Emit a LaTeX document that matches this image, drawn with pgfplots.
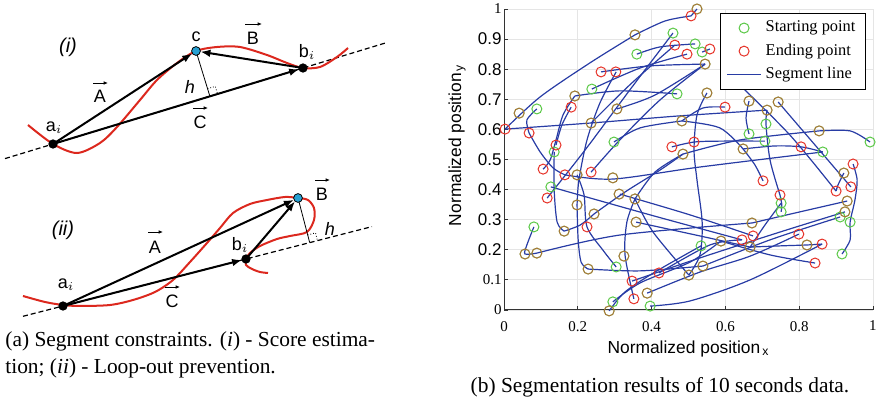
\documentclass[border=0pt]{standalone}
\usepackage{fontspec}
\setmainfont{Liberation Serif}
\setsansfont{Liberation Sans}
\usepackage{pgfplots}
\pgfplotsset{compat=1.18}
\usetikzlibrary{arrows.meta}

\definecolor{sgreen}{RGB}{90,200,70}
\definecolor{sred}{RGB}{230,50,40}
\definecolor{sblue}{RGB}{40,60,165}
\definecolor{cdot}{RGB}{40,160,210}
\definecolor{cred}{RGB}{220,40,30}

\pgfplotsset{
  seg/.style={sblue, line width=0.6pt, smooth, forget plot},
  vec/.style={black, line width=1pt, -{Latex[length=5pt,width=3.8pt]}, forget plot},
  over/.style={black, line width=0.4pt, -{Latex[length=2.2pt,width=1.8pt]}, forget plot},
}

\begin{document}
\begin{tikzpicture}
\useasboundingbox (0,0) rectangle (440pt,200.5pt);

% ---------- (a) diagram, drawn in image pixel units ----------
\begin{axis}[at={(0pt,0pt)}, anchor=south west, width=440pt, height=200.5pt,
  scale only axis, xmin=0, xmax=880, ymin=0, ymax=401, y dir=reverse,
  hide axis, clip=false]
% (i)
\addplot[black, line width=0.6pt, dash pattern=on 2.5pt off 1.5pt] coordinates {(5,158.6)(385,43.1)};
\addplot[cred, line width=1pt, smooth] coordinates {(28,125)(53,144)(77,153)(100,143)(117,127)(140,100)(157,80)(177,63)(196,51)(217,47)(240,47)(267,55)(287,63)(303,68)(320,67)(337,57)(348,48)};
\addplot[black, line width=0.4pt] coordinates {(196,51)(209.9,96.3)};
\addplot[black, line width=0.4pt, densely dotted] coordinates {(207.6,88.7)(215.3,86.4)(217.6,94.0)};
\addplot[vec] coordinates {(53,144)(192.2,53.5)};
\addplot[vec] coordinates {(303,68)(200.4,51.7)};
\addplot[vec] coordinates {(53,144)(299.2,69.2)};
\addplot[only marks, mark=*, mark size=2.1pt, black] coordinates {(53,144)(303,68)};
\addplot[only marks, mark=*, mark size=2.2pt, mark options={fill=cdot, draw=black, line width=0.4pt}] coordinates {(196,51)};
% vector arrows over the letters
\addplot[over] coordinates {(93,83)(108,83)};
\addplot[over] coordinates {(245,24)(262,24)};
\addplot[over] coordinates {(193,108)(208,108)};
% (ii)
\addplot[black, line width=0.6pt, dash pattern=on 2.5pt off 1.5pt] coordinates {(23,316.3)(372,226.6)};
\addplot[cred, line width=1pt, smooth] coordinates {(23,296)(45,302)(63,305)(80,306)(110,305)(133,300)(155,292)(173,280)(190,262)(207,243)(220,228)(233,213)(250,204)(267,200)(285,197)(298,198)(308,200)(314,208)(314,220)(307,232)(290,236)(277,239)(260,246)(250,253)(246,259)(246,265)(252,269)(260,272)(268,273)};
\addplot[black, line width=0.4pt] coordinates {(298,198)(309.7,242.6)};
\addplot[black, line width=0.4pt, densely dotted] coordinates {(307.7,234.9)(315.5,232.9)(317.5,240.6)};
\addplot[vec] coordinates {(63,306)(293.9,199.9)};
\addplot[vec] coordinates {(63,306)(242.1,260)};
\addplot[vec] coordinates {(246,259)(295.1,201.4)};
\addplot[only marks, mark=*, mark size=2.1pt, black] coordinates {(63,306)(246,259)};
\addplot[only marks, mark=*, mark size=2.2pt, mark options={fill=cdot, draw=black, line width=0.4pt}] coordinates {(298,198)};
\addplot[over] coordinates {(148,232)(163,232)};
\addplot[over] coordinates {(165,287)(180,287)};
\addplot[over] coordinates {(315,180)(330,180)};

\begin{scope}[every node/.style={font=\fontsize{9}{10}\sffamily, inner sep=0pt}]
\node[font=\fontsize{10}{11}\sffamily\itshape] at (68,47) {(i)};
\node at (54,128) {a$_i$};
\node at (307,52) {b$_i$};
\node at (196,37) {c};
\node at (100,96) {A};
\node at (253,38) {B};
\node at (200,122) {C};
\node at (190,87) {\textit{h}};
\node[font=\fontsize{10}{11}\sffamily\itshape] at (63,230) {(ii)};
\node at (66,285) {a$_i$};
\node at (240,245) {b$_i$};
\node at (155,247) {A};
\node at (172,301) {C};
\node at (322,194) {B};
\node at (330,229) {\textit{h}};
\end{scope}
\begin{scope}[every node/.style={font=\fontsize{10.7}{13}\selectfont, inner sep=0pt}]
\node[anchor=base west] at (5,347) {(a) Segment constraints. (\textit{i}) - Score estima-};
\node[anchor=base west] at (5,374) {tion; (\textit{ii}) - Loop-out prevention.};
\node[anchor=base] at (660,393) {(b) Segmentation results of 10 seconds data.};
\end{scope}
\end{axis}

% ---------- (b) segmentation chart ----------
\begin{axis}[at={(252pt,45.5pt)}, anchor=south west, width=184.5pt, height=150.5pt,
  scale only axis, xmin=0, xmax=1, ymin=0, ymax=1, clip=false,
  axis x line*=bottom, axis y line*=left,
  axis line style={black!80, line width=0.5pt},
  tick align=inside, major tick length=2pt, tick style={black!80, line width=0.4pt},
  grid=major, major grid style={black!10, line width=0.4pt},
  xtick={0,0.2,0.4,0.6,0.8,1}, xticklabels={0,0.2,0.4,0.6,0.8,1},
  ytick={0,0.1,0.2,0.3,0.4,0.5,0.6,0.7,0.8,0.9,1},
  yticklabels={{\rmfamily\fontsize{7.5}{8}\selectfont 0},{\rmfamily\fontsize{7.5}{8}\selectfont 0.1},0.2,0.3,0.4,0.5,0.6,0.7,0.8,0.9,{\rmfamily\fontsize{7.5}{8}\selectfont 1}},
  xticklabel style={font=\fontsize{7.5}{8}\selectfont, yshift=-2pt},
  yticklabel style={font=\fontsize{8.5}{9}\sffamily, inner xsep=1pt},
  xlabel={Normalized position\textsubscript{\,x}},
  ylabel={Normalized position\textsubscript{\,y}},
  xlabel style={font=\fontsize{8.7}{10}\sffamily, at={(axis description cs:0.5,-0.13)}, anchor=center},
  ylabel style={font=\fontsize{8.7}{10}\sffamily, at={(axis description cs:-0.127,0.548)}, anchor=center},
  legend style={at={(0.981,0.988)}, anchor=north east, draw=black, line width=0.5pt,
    fill=white, font=\fontsize{8.2}{9.5}\selectfont, inner xsep=3pt, inner ysep=2pt,
    row sep=0.5pt, cells={anchor=west}},
]
\addlegendimage{only marks, mark=o, mark size=2.5pt, sgreen, line width=0.5pt}
\addlegendentry{Starting point}
\addlegendimage{only marks, mark=o, mark size=2.5pt, sred, line width=0.5pt}
\addlegendentry{Ending point}
\addlegendimage{sblue, line width=0.6pt}
\addlegendentry{Segment line}

\addplot[seg] coordinates {(0.003,0.601)(0.098,0.708)(0.233,0.821)(0.355,0.914)};
\addplot[seg] coordinates {(0.355,0.914)(0.436,0.960)(0.507,0.977)};
\addplot[seg] coordinates {(0.523,1.0)(0.507,0.977)};
\addplot[seg] coordinates {(0.003,0.601)(0.233,0.621)(0.477,0.645)(0.713,0.664)};
\addplot[seg] coordinates {(0.089,0.668)(0.062,0.631)(0.068,0.588)};
\addplot[seg] coordinates {(0.068,0.588)(0.098,0.525)(0.133,0.472)(0.165,0.449)};
\addplot[seg] coordinates {(0.165,0.449)(0.295,0.435)(0.531,0.475)(0.864,0.525)};
\addplot[seg] coordinates {(0.360,0.850)(0.423,0.874)(0.518,0.884)};
\addplot[seg] coordinates {(0.238,0.734)(0.369,0.804)(0.496,0.850)};
\addplot[seg] coordinates {(0.263,0.791)(0.396,0.811)(0.545,0.817)};
\addplot[seg] coordinates {(0.192,0.711)(0.314,0.728)(0.469,0.718)};
\addplot[seg] coordinates {(0.192,0.711)(0.160,0.648)(0.141,0.565)(0.125,0.498)(0.106,0.468)};
\addplot[seg] coordinates {(0.182,0.674)(0.157,0.615)(0.141,0.548)};
\addplot[seg] coordinates {(0.136,0.525)(0.136,0.399)(0.144,0.292)(0.163,0.262)};
\addplot[seg] coordinates {(0.163,0.262)(0.206,0.282)(0.244,0.319)};
\addplot[seg] coordinates {(0.244,0.319)(0.328,0.392)(0.423,0.465)(0.485,0.518)};
\addplot[seg] coordinates {(0.485,0.518)(0.409,0.458)(0.355,0.369)};
\addplot[seg] coordinates {(0.355,0.369)(0.333,0.292)(0.328,0.183)(0.352,0.037)};
\addplot[seg] coordinates {(0.355,0.369)(0.404,0.259)(0.501,0.116)};
\addplot[seg] coordinates {(0.501,0.116)(0.531,0.183)(0.537,0.292)(0.523,0.432)(0.515,0.532)(0.523,0.648)(0.550,0.721)};
\addplot[seg] coordinates {(0.304,0.791)(0.260,0.688)(0.225,0.565)(0.203,0.432)(0.198,0.349)};
\addplot[seg] coordinates {(0.198,0.349)(0.201,0.233)(0.209,0.159)(0.228,0.136)};
\addplot[seg] coordinates {(0.228,0.136)(0.369,0.130)(0.539,0.146)};
\addplot[seg] coordinates {(0.198,0.449)(0.217,0.382)(0.225,0.276)(0.268,0.199)(0.304,0.143)};
\addplot[seg] coordinates {(0.127,0.409)(0.396,0.316)(0.645,0.233)};
\addplot[seg] coordinates {(0.458,0.920)(0.341,0.731)(0.220,0.532)(0.117,0.372)};
\addplot[seg] coordinates {(0.537,0.857)(0.558,0.867)};
\addplot[seg] coordinates {(0.545,0.817)(0.423,0.698)(0.314,0.565)(0.236,0.458)};
\addplot[seg] coordinates {(0.306,0.668)(0.409,0.714)(0.545,0.817)};
\addplot[seg] coordinates {(0.236,0.621)(0.341,0.748)(0.463,0.880)};
\addplot[seg] coordinates {(0.298,0.558)(0.369,0.605)(0.482,0.628)};
\addplot[seg] coordinates {(0.482,0.628)(0.585,0.605)(0.648,0.535)};
\addplot[seg] coordinates {(0.482,0.628)(0.539,0.671)(0.599,0.674)};
\addplot[seg] coordinates {(0.707,0.561)(0.585,0.561)(0.515,0.558)(0.455,0.542)};
\addplot[seg] coordinates {(0.485,0.518)(0.640,0.565)(0.854,0.595)};
\addplot[seg] coordinates {(0.854,0.595)(0.938,0.595)(0.992,0.558)};
\addplot[seg] coordinates {(0.664,0.694)(0.656,0.638)(0.664,0.585)};
\addplot[seg] coordinates {(0.713,0.664)(0.710,0.618)(0.721,0.498)(0.748,0.382)};
\addplot[seg] coordinates {(0.631,0.757)(0.775,0.581)(0.900,0.395)};
\addplot[seg] coordinates {(0.743,0.691)(0.843,0.548)(0.940,0.409)};
\addplot[seg] coordinates {(0.921,0.455)(0.905,0.415)(0.900,0.395)};
\addplot[seg] coordinates {(0.946,0.485)(0.957,0.432)(0.951,0.365)(0.938,0.292)(0.938,0.233)(0.916,0.186)};
\addplot[seg] coordinates {(0.081,0.276)(0.062,0.216)(0.057,0.186)(0.089,0.189)};
\addplot[seg] coordinates {(0.089,0.189)(0.314,0.249)(0.672,0.289)};
\addplot[seg] coordinates {(0.672,0.289)(0.802,0.326)(0.930,0.362)};
\addplot[seg] coordinates {(0.751,0.326)(0.753,0.349)(0.748,0.382)};
\addplot[seg] coordinates {(0.648,0.535)(0.680,0.482)(0.702,0.429)};
\addplot[seg] coordinates {(0.396,0.013)(0.504,0.030)(0.667,0.100)(0.862,0.219)};
\addplot[seg] coordinates {(0.388,0.056)(0.531,0.126)(0.667,0.179)(0.799,0.252)};
\addplot[seg] coordinates {(0.347,0.096)(0.531,0.173)(0.748,0.259)(0.924,0.326)};
\addplot[seg] coordinates {(0.285,-0.003)(0.328,0.060)(0.409,0.126)(0.534,0.213)};
\addplot[seg] coordinates {(0.295,0.027)(0.369,0.090)(0.504,0.159)(0.588,0.229)};
\addplot[seg] coordinates {(0.588,0.229)(0.721,0.183)(0.843,0.156)};
\addplot[seg] coordinates {(0.539,0.146)(0.721,0.233)(0.911,0.309)};
\addplot[seg] coordinates {(0.420,0.123)(0.558,0.216)(0.645,0.233)};
\addplot[seg] coordinates {(0.314,0.385)(0.504,0.316)(0.675,0.246)};
\addplot[seg] coordinates {(0.358,0.292)(0.531,0.246)(0.667,0.209)};
\addplot[seg] coordinates {(0.751,0.355)(0.707,0.282)(0.667,0.209)};
\addplot[seg] coordinates {(0.648,0.535)(0.734,0.545)(0.805,0.542)(0.864,0.525)};
\addplot[seg] coordinates {(0.667,0.209)(0.748,0.213)(0.821,0.216)(0.862,0.219)};

% starting points
\addplot[only marks, mark=o, mark size=2.5pt, sgreen, line width=0.5pt, forget plot] table {
x y
0.458 0.920
0.518 0.884
0.360 0.850
0.537 0.857
0.238 0.734
0.469 0.718
0.089 0.668
0.710 0.618
0.664 0.585
0.298 0.558
0.707 0.561
0.992 0.558
0.136 0.525
0.864 0.525
0.127 0.409
0.751 0.355
0.751 0.326
0.911 0.309
0.938 0.292
0.081 0.276
0.534 0.213
0.916 0.186
0.304 0.143
0.295 0.027
0.396 0.013
};
% points that are both start and end
\pgfplotstableread{
x y
0.523 1.000
0.355 0.914
0.545 0.817
0.550 0.721
0.192 0.711
0.041 0.654
0.306 0.668
0.664 0.694
0.743 0.691
0.713 0.664
0.236 0.621
0.482 0.628
0.854 0.595
0.485 0.518
0.648 0.535
0.198 0.449
0.295 0.439
0.921 0.455
0.312 0.385
0.355 0.369
0.198 0.349
0.930 0.362
0.924 0.326
0.244 0.319
0.163 0.262
0.358 0.292
0.672 0.289
0.588 0.229
0.667 0.209
0.821 0.216
0.057 0.186
0.089 0.189
0.325 0.179
0.228 0.136
0.501 0.116
0.539 0.146
0.388 0.056
0.285 -0.003
}\bothpts
\addplot[only marks, mark=o, mark size=2.5pt, sgreen, line width=0.5pt, forget plot] table {\bothpts};
% ending points
\addplot[only marks, mark=o, mark size=2.5pt, sred, line width=0.5pt, forget plot] table {
x y
0.507 0.977
0.463 0.880
0.496 0.850
0.558 0.867
0.263 0.791
0.303 0.791
0.631 0.757
0.182 0.674
0.599 0.674
0.003 0.601
0.068 0.588
0.515 0.558
0.455 0.542
0.141 0.548
0.805 0.542
0.106 0.468
0.165 0.449
0.236 0.458
0.946 0.485
0.702 0.429
0.117 0.372
0.748 0.382
0.900 0.395
0.940 0.409
0.225 0.276
0.675 0.246
0.645 0.233
0.799 0.252
0.862 0.219
0.843 0.156
0.420 0.123
0.347 0.096
0.352 0.037
};
\addplot[only marks, mark=o, mark size=2.5pt, sred, line width=0.5pt, draw opacity=0.55, forget plot] table {\bothpts};
\end{axis}
\end{tikzpicture}
\end{document}
